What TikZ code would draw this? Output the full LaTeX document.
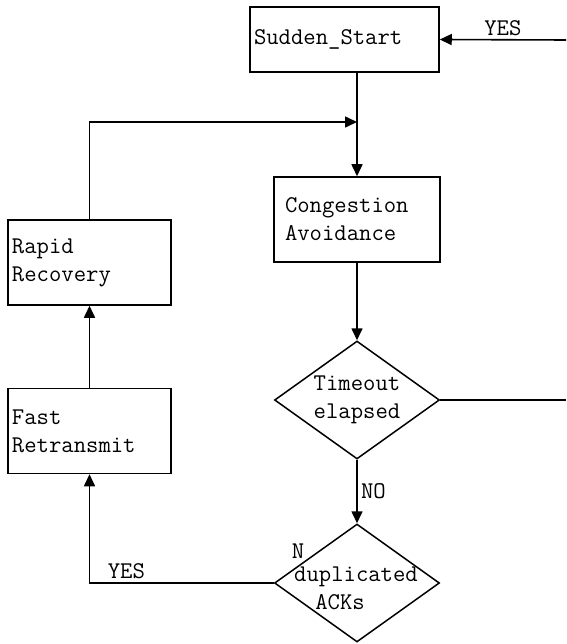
\documentclass[tikz,border=0pt]{standalone}
\usepackage{fontspec}
\usetikzlibrary{positioning, shapes.geometric}
\usetikzlibrary{arrows.meta}

\begin{document}
\begin{tikzpicture}[x=1pt,y=-1pt, font=\ttfamily\fontsize{24}{28}\selectfont]
            \tikzset{box/.style = {draw, line width=1.5pt, minimum height=85pt, inner xsep=4pt, align=left}}
            \tikzset{dia/.style = {draw, diamond, line width=1.5pt, inner sep=0pt, aspect=1.4, minimum width=165pt, minimum height=118pt, align=center}}
            \tikzset{flow/.style = {line width=1.6pt}}
            \tikzset{smalledge/.style = {flow, -{Triangle[length=12pt,width=11pt]}}}

            \useasboundingbox (0,0) rectangle (566,644);

            \node[box, minimum height=65pt, text width=181pt] (start) at (344.5,39.5) {Sudden\_Start};
            \node[box, text width=144pt, inner xsep=11pt] (cong) at (357,219.5) {Congestion\\Avoidance};
            \node[dia] (timeout) at (357,400) {Timeout\\elapsed};
            \node[dia] (dup) at (357,583) {};
            \node (dupa) at (356,577) {duplicated};
            \node (dupb) at (340,602) {ACKs};
            \node[box, text width=155pt] (rapid) at (89.5,262.5) {Rapid\\Recovery};
            \node[box, text width=155pt] (fast) at (89.5,431) {Fast\\Retransmit};
            \node (n) at (298,551) {N};

            \coordinate (yesin) at (566,40);
            \coordinate (join) at (357,122);
            \coordinate (out) at (566,400);

            % arrows
            \draw[smalledge] (yesin) -- node[above, pos=0.5]{YES} (start.east);
            \draw[smalledge] (start.south -| cong.north) -- (cong.north);
            \draw[smalledge] (rapid.north) |- (join);
            \draw[smalledge] (cong.south) -- (timeout.north);
            \draw[flow] (timeout.east) -- (out);
            \draw[smalledge] (timeout.south) -- node[right]{NO} (dup.north);
            \draw[smalledge] (dup.west) -| node[above, pos=0.4]{YES} (fast.south);
            \draw[smalledge] (fast.north) -- (rapid.south);

        \end{tikzpicture}
\end{document}
